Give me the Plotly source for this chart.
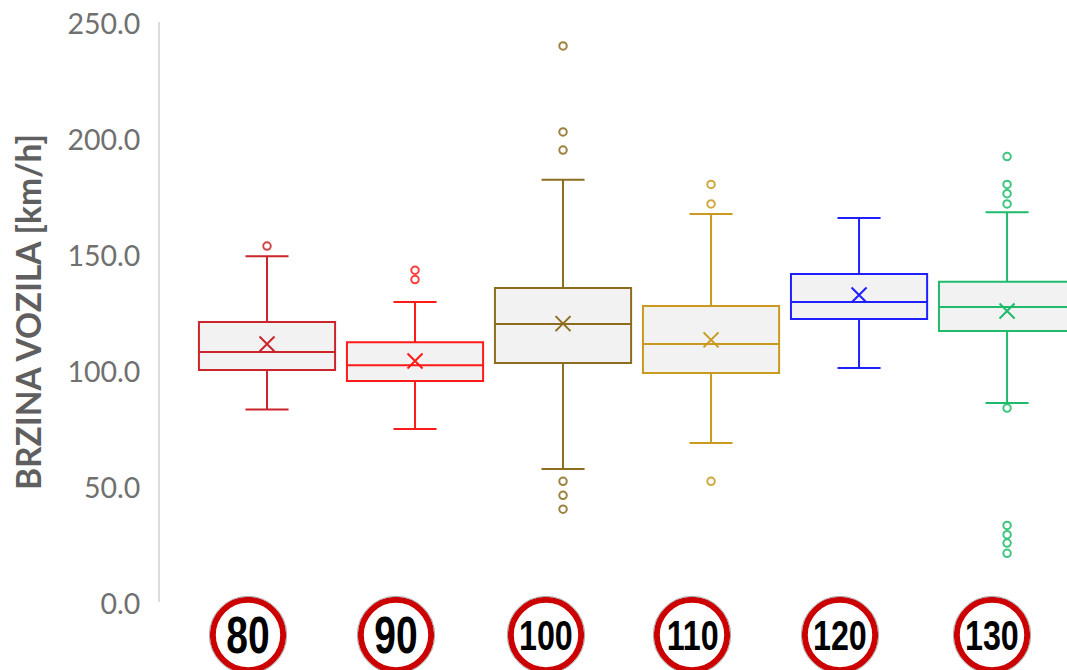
import plotly.graph_objects as go

LIMITS = ['80', '90', '100', '110', '120', '130']
COLORS = ['#C9252B', '#FF1A1A', '#8C6D1F', '#C99A1F', '#1F1FFF', '#1FBB6B']

Q1 = [100, 95.3, 103, 98.7, 122, 116.8]
MEDIAN = [107.8, 102, 119.8, 111.2, 129.3, 127.2]
Q3 = [120.7, 112, 135.3, 127.6, 141.4, 138]
LOWER = [83, 74.6, 57.3, 68.5, 100.9, 85.8]
UPPER = [149, 129.3, 182, 167.2, 165.5, 168]
MEANS = [111.2, 103.9, 120, 113, 132.3, 125.4]
OUTLIERS = [
	[153.4],
	[143, 139],
	[239.7, 202.6, 194.8, 52, 46, 40],
	[180, 171.6, 52],
	[],
	[192, 180, 176, 171.6, 83.6, 33, 29, 25.4, 21],
]
TICKS = [0, 50, 100, 150, 200, 250]

WIDTH, HEIGHT = 1067, 670
LEFT, TOP, BOTTOM = 160, 22, 68
SIGN_X = [248, 396, 546, 692, 840, 992] # pixel centres of the road signs
SIGN_Y = 635

# no narrow font installed, so squeeze the sign digits; tick labels sit 2px lower than plotly puts them
POST_JS = """
document.body.style.margin='0';
document.body.style.overflow='hidden';
document.querySelectorAll('.annotation-text').forEach(function(t){
	t.style.transformBox='fill-box';
	t.style.transformOrigin='center';
	t.style.transform='scaleX(0.75)';
});
document.querySelectorAll('.ytick text').forEach(function(t){
	t.setAttribute('y', parseFloat(t.getAttribute('y')) + 2);
});
"""

def px_x(x):
	return (x - LEFT) / (WIDTH - LEFT)

def px_y(y):
	return (HEIGHT - BOTTOM - y) / (HEIGHT - TOP - BOTTOM)

fig = go.Figure()
for i, limit in enumerate(LIMITS):
	fig.add_trace(go.Box(
		x=[limit], q1=[Q1[i]], median=[MEDIAN[i]], q3=[Q3[i]],
		lowerfence=[LOWER[i]], upperfence=[UPPER[i]],
		width=0.92, whiskerwidth=0.316, boxpoints=False,
		fillcolor='#F2F2F2', line={'color': COLORS[i], 'width': 2},
		showlegend=False,
	))
	fig.add_trace(go.Scatter(
		x=[limit] * len(OUTLIERS[i]), y=OUTLIERS[i], mode='markers',
		marker={'symbol': 'circle-open', 'size': 7.5, 'color': COLORS[i], 'line': {'width': 2, 'color': COLORS[i]}},
		opacity=0.85, showlegend=False,
	))
	fig.add_trace(go.Scatter(
		x=[limit], y=[MEANS[i]], mode='markers',
		marker={'symbol': 'x-thin-open', 'size': 15, 'color': COLORS[i], 'line': {'width': 2, 'color': COLORS[i]}},
		showlegend=False,
	))

# road signs under each box
shapes = []
annotations = []
for limit, cx in zip(LIMITS, SIGN_X):
	shapes.append(dict(
		type='circle', xref='paper', yref='paper', layer='above',
		x0=px_x(cx - 35.2), x1=px_x(cx + 35.2), y0=px_y(SIGN_Y + 35.2), y1=px_y(SIGN_Y - 35.2),
		fillcolor='white', line={'color': '#CC0000', 'width': 6},
	))
	shapes.append(dict(
		type='circle', xref='paper', yref='paper', layer='above',
		x0=px_x(cx - 38.7), x1=px_x(cx + 38.7), y0=px_y(SIGN_Y + 38.7), y1=px_y(SIGN_Y - 38.7),
		fillcolor='rgba(0,0,0,0)', line={'color': '#A8A8A8', 'width': 1},
	))
	annotations.append(dict(
		text=f'<b>{limit}</b>', xref='paper', yref='paper', x=px_x(cx), y=px_y(SIGN_Y),
		xanchor='center', yanchor='middle', showarrow=False,
		font={'family': 'Liberation Sans', 'size': 52 if len(limit) == 2 else 43, 'color': 'black'},
	))

fig.update_layout(
	width=WIDTH, height=HEIGHT,
	margin={'l': LEFT, 'r': 0, 't': TOP, 'b': BOTTOM},
	paper_bgcolor='white', plot_bgcolor='white',
	boxmode='overlay',
	shapes=shapes, annotations=annotations,
	xaxis={'type': 'category', 'categoryorder': 'array', 'categoryarray': LIMITS, 'range': [-0.723, 5.405],
		'showticklabels': False, 'showgrid': False, 'zeroline': False, 'ticks': ''},
	yaxis={'range': [0, 250], 'tickvals': TICKS, 'ticktext': [f'{t:.1f}' for t in TICKS],
		'showgrid': False, 'zeroline': False, 'showline': True, 'linecolor': '#DDDDDD', 'linewidth': 2,
		'ticks': '', 'ticklabelstandoff': 12,
		'tickfont': {'family': 'Lato', 'size': 28.5, 'color': '#707070'},
		'title': {'text': '<b>BRZINA VOZILA [km/h]</b>', 'standoff': 16,
			'font': {'family': 'Lato', 'size': 33.5, 'color': '#5F5F5F'}}},
)
fig.write_html('out.html', config={'displayModeBar': False}, post_script=POST_JS)
